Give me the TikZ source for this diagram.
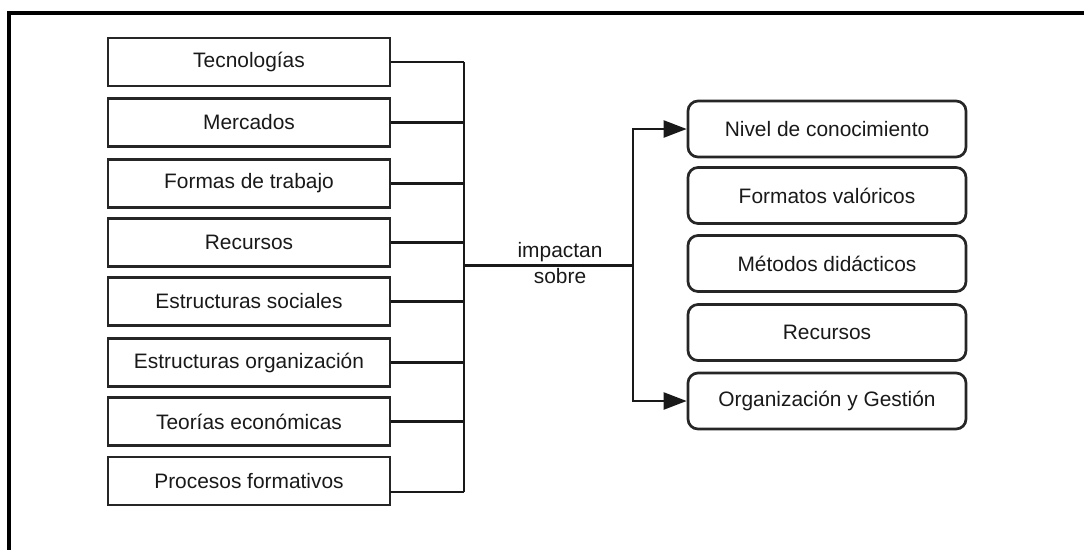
\documentclass[tikz,border=0pt]{standalone}
\usepackage{fontspec}
\setmainfont{Liberation Sans}
\usetikzlibrary{arrows.meta}
\tikzset{
  leftbox/.style={draw=black!85, line width=2.7pt, minimum width=282pt, minimum height=48pt, inner sep=0pt,
    font=\fontsize{20.9}{24}\selectfont, text=black!90},
  rightbox/.style={draw=black!85, line width=2.7pt, rounded corners=10pt, minimum width=278pt, minimum height=56pt, inner sep=0pt,
    font=\fontsize{20.9}{24}\selectfont, text=black!90},
  wire/.style={draw=black!90, line width=2.3pt},
  frame/.style={draw=black, line width=4pt},
  lbl/.style={font=\fontsize{20.9}{26}\selectfont, align=center, inner sep=0pt, text=black!90},
}
\begin{document}
\begin{tikzpicture}[x=1pt, y=-1pt]
\useasboundingbox (0,0) rectangle (1084,550);
% frame
\coordinate (fTL) at (9,13);
\coordinate (fTR) at (1084,13);
\coordinate (fBL) at (9,550);
\draw[frame] (fTR) -- (fTL) -- (fBL);
% left boxes
\node[leftbox] (L1) at (249,62) {Tecnologías};
\node[leftbox] (L2) at (249,122.5) {Mercados};
\node[leftbox] (L3) at (249,183.5) {Formas de trabajo};
\node[leftbox] (L4) at (249,242.5) {Recursos};
\node[leftbox] (L5) at (249,301.5) {Estructuras sociales};
\node[leftbox] (L6) at (249,362.5) {Estructuras organización};
\node[leftbox] (L7) at (249,421.5) {Teorías económicas};
\node[leftbox] (L8) at (249,481) {Procesos formativos};
% right boxes
\node[rightbox] (R1) at (827,129) {Nivel de conocimiento};
\node[rightbox] (R2) at (827,195.5) {Formatos valóricos};
\node[rightbox] (R3) at (827,263.5) {Métodos didácticos};
\node[rightbox] (R4) at (827,332.5) {Recursos};
\node[rightbox] (R5) at (827,401) {Organización y Gestión};
% bus
\coordinate (busTop) at (464,62);
\coordinate (busBot) at (464,492);
\coordinate (c8) at (390,492);
\coordinate (hub) at (464,265.5);
\coordinate (fork) at (633,265.5);
\draw[wire] (busTop) -- (busBot);
\foreach \n in {L1,L2,L3,L4,L5,L6,L7} {
  \draw[wire] (\n.east) -- (\n.east -| busTop);
}
\draw[wire] (c8) -- (busBot);
\draw[wire] (hub) -- (fork);
\draw[wire, -{Triangle[length=23pt, width=17pt]}] (fork) |- (R1.west);
\draw[wire, -{Triangle[length=23pt, width=17pt]}] (fork) |- (R5.west);
\node[lbl] (imp) at (560,263.5) {impactan\\sobre};
\end{tikzpicture}
\end{document}
